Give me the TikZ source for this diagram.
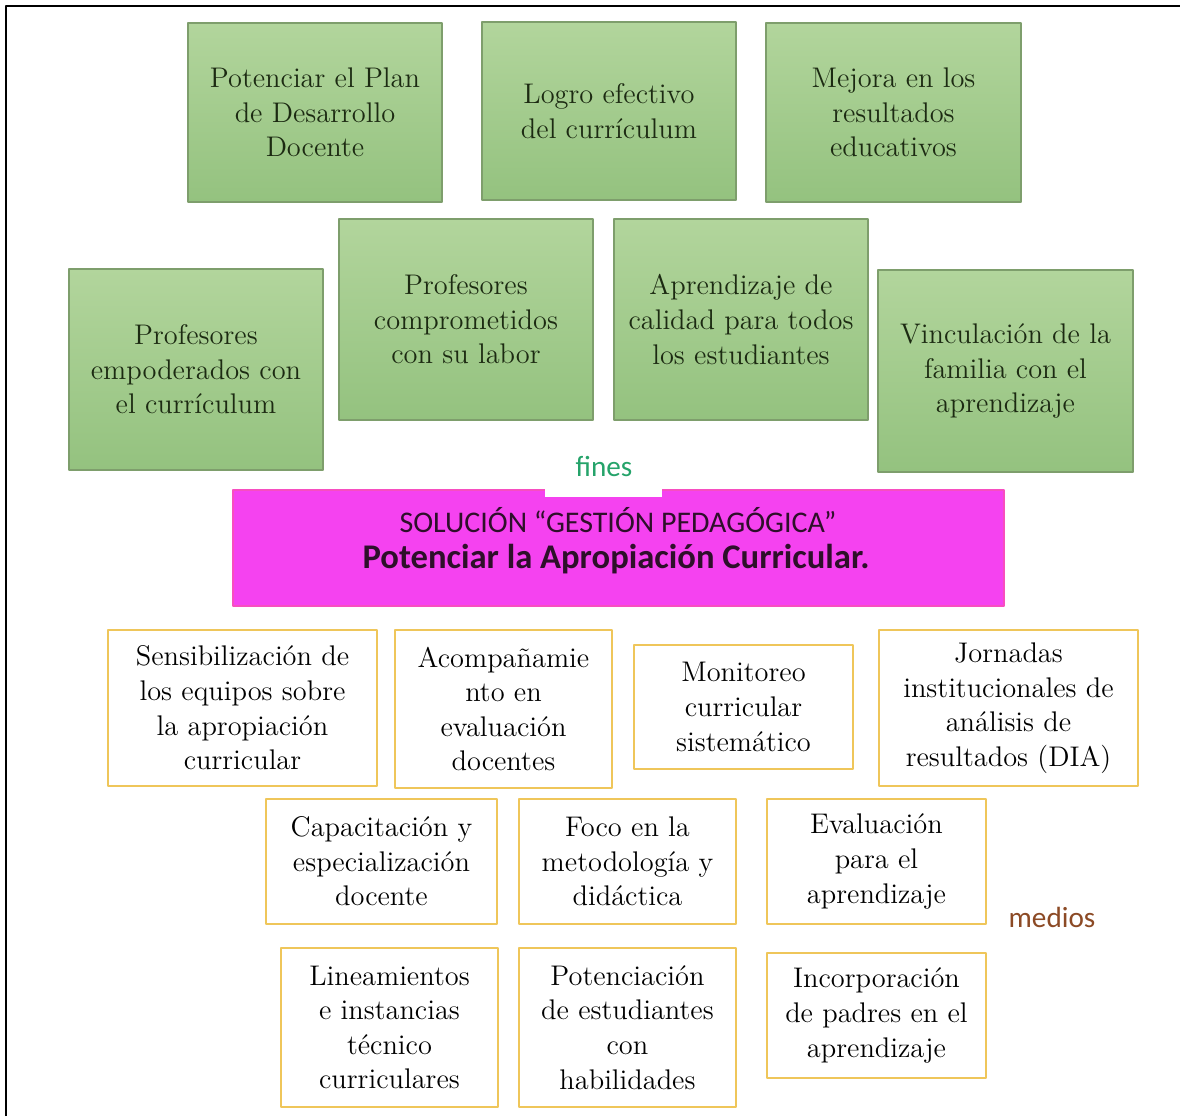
\documentclass[tikz,border=0pt]{standalone}
\usepackage{fontspec}
\newfontfamily\calibri{Carlito}
\definecolor{verdeclaro}{HTML}{B2D59C}
\definecolor{verdeoscuro}{HTML}{94C27F}
\definecolor{bordeverde}{HTML}{7E9E6C}
\definecolor{textoverde}{HTML}{1C2A12}
\definecolor{bordeamarillo}{HTML}{EFC65A}
\definecolor{magenta2}{HTML}{F542F0}
\definecolor{textomagenta}{HTML}{2E0F2A}
\definecolor{verdefines}{HTML}{25A36A}
\definecolor{marronmedios}{HTML}{8C4A25}
\tikzset{
  fin/.style={draw=bordeverde, line width=0.7pt, top color=verdeclaro, bottom color=verdeoscuro,
    text=textoverde, align=center, inner sep=0pt, outer sep=0pt,
    font=\rmfamily\fontsize{14.2}{17.3}\selectfont},
  medio/.style={draw=bordeamarillo, line width=0.8pt, fill=white, align=center,
    inner sep=0pt, outer sep=0pt, font=\rmfamily\fontsize{14.2}{17.3}\selectfont},
  etiqueta/.style={font=\calibri\fontsize{14.6}{17}\selectfont, inner sep=0pt}
}
\begin{document}
\begin{tikzpicture}[x=0.5pt, y=-0.5pt, line join=round]
  \useasboundingbox (0,0) rectangle (1180,1116);
  \fill[white] (0,0) rectangle (1180,1116);
  % marco
  \draw[line width=1.3pt] (6,1116) -- (6,6) -- (1180,6);
  % fines
  \foreach \n/\xa/\ya/\xb/\yb/\t in {
    fin1/188/23/442/202/{Potenciar el Plan\\de Desarrollo\\Docente},
    fin2/482/22/736/200/{Logro efectivo\\del currículum},
    fin3/766/23/1021/202/{Mejora en los\\resultados\\educativos},
    fin4/69/269/323/470/{Profesores\\empoderados con\\el currículum},
    fin5/339/219/593/420/{Profesores\\comprometidos\\con su labor},
    fin6/614/219/868/420/{Aprendizaje de\\calidad para todos\\los estudiantes},
    fin7/878/270/1133/472/{Vinculación de la\\familia con el\\aprendizaje}}
    \node[fin, minimum width={(\xb-\xa)*0.5pt}, minimum height={(\yb-\ya)*0.5pt}]
      (\n) at ({(\xa+\xb)/2},{(\ya+\yb)/2}) {\t};
  % solucion
  \node[fill=magenta2, draw=magenta2!80!orange, line width=0.6pt, inner sep=0pt,
    minimum width=385.5pt, minimum height=58pt] (sol) at (618.5,548) {};
  \fill[white] (545,445) rectangle (662,497);
  \node[etiqueta, text=verdefines] (fines) at (604,466) {fines};
  \node[text=textomagenta, inner sep=0pt, font=\calibri\fontsize{15}{18}\selectfont]
    (soltitulo) at (618,520) {SOLUCIÓN “GESTIÓN PEDAGÓGICA”};
  \node[text=textomagenta, inner sep=0pt, font=\calibri\bfseries\fontsize{17.3}{20}\selectfont]
    (solfrase) at (616,559) {Potenciar la Apropiación Curricular.};
  % medios
  \foreach \n/\xa/\ya/\xb/\yb/\t in {
    medio1/108/630/377/786/{Sensibilización de\\los equipos sobre\\la apropiación\\curricular},
    medio2/395/630/612/788/{Acompañamie\\nto en\\evaluación\\docentes},
    medio3/634/645/853/769/{Monitoreo\\curricular\\sistemático},
    medio4/879/630/1138/786/{Jornadas\\institucionales de\\análisis de\\resultados (DIA)},
    medio5/266/799/497/924/{Capacitación y\\especialización\\docente},
    medio6/519/799/736/924/{Foco en la\\metodología y\\didáctica},
    medio7/767/799/986/924/{Evaluación\\para el\\aprendizaje},
    medio8/281/948/498/1107/{Lineamientos\\e instancias\\técnico\\curriculares},
    medio9/519/948/736/1107/{Potenciación\\de estudiantes\\con\\habilidades},
    medio10/767/953/986/1078/{Incorporación\\de padres en el\\aprendizaje}}
    \node[medio, minimum width={(\xb-\xa)*0.5pt}, minimum height={(\yb-\ya)*0.5pt}]
      (\n) at ({(\xa+\xb)/2},{(\ya+\yb)/2}) {\t};
  \node[etiqueta, text=marronmedios] (medios) at (1052,917) {medios};
\end{tikzpicture}
\end{document}
